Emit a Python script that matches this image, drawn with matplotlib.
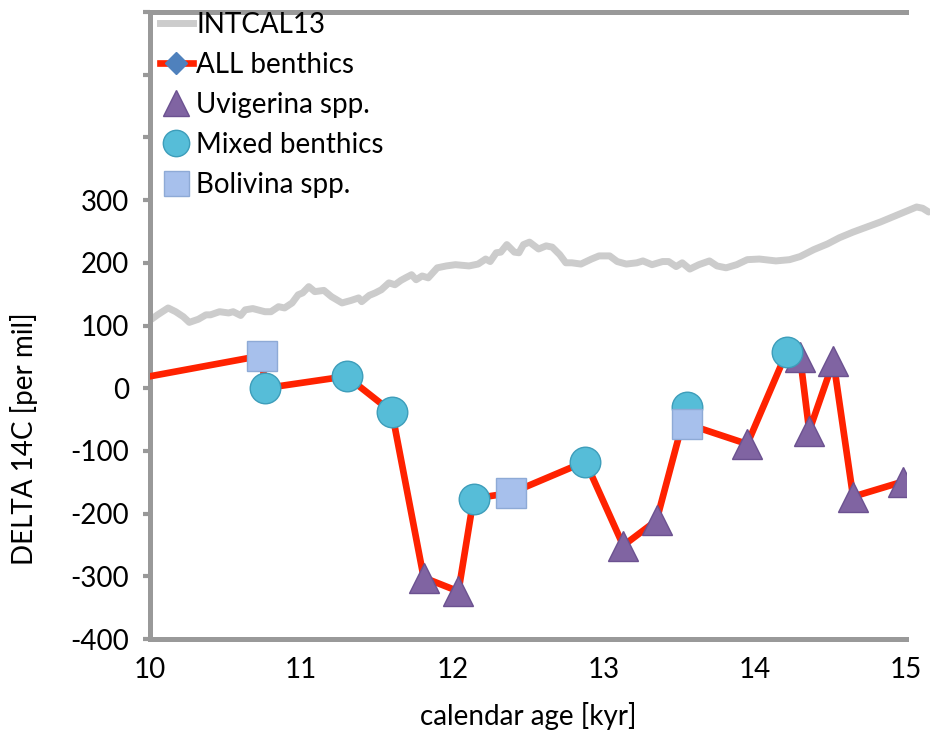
import matplotlib
matplotlib.use("Agg")
import matplotlib.pyplot as plt
from matplotlib.lines import Line2D

plt.rcParams['font.family'] = ['Lato', 'DejaVu Sans']

# INTCAL13 curve (age kyr, delta14C per mil)
intcal_age = [10.01, 10.05, 10.12, 10.17, 10.22, 10.26, 10.32, 10.37, 10.40, 10.46,
              10.52, 10.55, 10.60, 10.63, 10.68, 10.76, 10.80, 10.85, 10.89, 10.94,
              10.98, 11.01, 11.05, 11.09, 11.15, 11.20, 11.27, 11.33, 11.38, 11.40,
              11.45, 11.49, 11.53, 11.58, 11.62, 11.66, 11.69, 11.73, 11.76, 11.80,
              11.84, 11.90, 11.96, 12.02, 12.11, 12.17, 12.22, 12.25, 12.29, 12.32,
              12.36, 12.41, 12.44, 12.47, 12.51, 12.57, 12.62, 12.66, 12.71, 12.75,
              12.79, 12.85, 12.92, 12.97, 13.04, 13.09, 13.15, 13.22, 13.26, 13.32,
              13.39, 13.43, 13.48, 13.52, 13.57, 13.63, 13.70, 13.75, 13.81, 13.88,
              13.95, 14.03, 14.14, 14.23, 14.30, 14.39, 14.48, 14.56, 14.65, 14.74,
              14.83, 14.91, 15.01, 15.07, 15.11, 15.15]
intcal_d14c = [110, 117, 128, 122, 114, 105, 110, 117, 117, 122,
               120, 122, 116, 125, 127, 122, 122, 130, 128, 136,
               149, 152, 162, 154, 156, 146, 136, 140, 144, 138,
               148, 152, 157, 168, 165, 172, 176, 181, 173, 179,
               176, 192, 195, 197, 195, 198, 206, 202, 216, 217,
               229, 217, 216, 229, 233, 222, 227, 225, 213, 200,
               200, 198, 206, 211, 211, 202, 198, 200, 203, 197,
               202, 202, 194, 200, 190, 197, 203, 195, 192, 197,
               205, 206, 203, 205, 210, 221, 230, 240, 249, 257,
               265, 273, 283, 289, 287, 281]

# all benthic samples, in age order
all_age = [10.0, 10.74, 10.76, 11.30, 11.60, 11.81, 12.04, 12.14, 12.39, 12.88,
           13.13, 13.35, 13.55, 13.55, 13.95, 14.21, 14.30, 14.36, 14.52, 14.65, 14.98]
all_d14c = [19, 52, 0, 19, -38, -302, -324, -176, -167, -117,
            -251, -211, -30, -57, -89, 57, 49, -68, 43, -173, -149]

uvi_age = [11.81, 12.04, 13.13, 13.35, 13.95, 14.30, 14.36, 14.52, 14.65, 14.98]
uvi_d14c = [-302, -324, -251, -211, -89, 49, -68, 43, -173, -149]

mixed_age = [10.76, 11.30, 11.60, 12.14, 12.88, 13.55, 14.21]
mixed_d14c = [0, 19, -38, -176, -117, -30, 57]

boli_age = [10.74, 12.39, 13.55]
boli_d14c = [52, -167, -57]

fig = plt.figure(figsize=(9.3, 7.33), dpi=100)
ax = fig.add_axes([150/930, 94/733, 756/930, 627/733])

grey = '#999999'
ax.plot(intcal_age, intcal_d14c, color='#cccccc', lw=5, solid_capstyle='round',
        solid_joinstyle='round', clip_on=False, zorder=2)
ax.plot(all_age, all_d14c, color='#ff2200', lw=4.8, zorder=3)
ax.plot(uvi_age, uvi_d14c, ls='none', marker='^', ms=21, mfc='#8064a2',
        mec='#6b5190', mew=1, zorder=4)
ax.plot(mixed_age, mixed_d14c, ls='none', marker='o', ms=22, mfc='#56bdd8',
        mec='#3d9dba', mew=1, zorder=5)
ax.plot(boli_age, boli_d14c, ls='none', marker='s', ms=21, mfc='#a7c0ec',
        mec='#8eaad6', mew=1, zorder=6)

ax.set_xlim(10, 15)
ax.set_ylim(-400, 600)
ax.set_xticks([10, 11, 12, 13, 14, 15])
ax.set_yticks(range(-400, 601, 100))
ax.set_yticklabels([str(v) if v <= 300 else '' for v in range(-400, 601, 100)])

for s in ['left', 'bottom', 'top']:
    ax.spines[s].set_color(grey)
    ax.spines[s].set_linewidth(3.6)
ax.spines['right'].set_visible(False)
ax.tick_params(axis='y', direction='out', length=5, width=3, color=grey,
               labelsize=20, pad=10)
ax.tick_params(axis='x', length=0, labelsize=20, pad=13)

ax.set_xlabel('calendar age [kyr]', fontsize=20)
ax.set_ylabel('DELTA 14C [per mil]', fontsize=20)
ax.xaxis.set_label_coords(0.5, -0.1)
ax.yaxis.set_label_coords(-0.148, 0.32)

handles = [
    Line2D([], [], color='#cccccc', lw=5),
    Line2D([], [], color='#ff2200', lw=4.8, marker='D', ms=11, mfc='#4f81bd', mec='#4f81bd'),
    Line2D([], [], ls='none', marker='^', ms=19, mfc='#8064a2', mec='#6b5190'),
    Line2D([], [], ls='none', marker='o', ms=19, mfc='#56bdd8', mec='#3d9dba'),
    Line2D([], [], ls='none', marker='s', ms=18, mfc='#a7c0ec', mec='#8eaad6'),
]
labels = ['INTCAL13', 'ALL benthics', 'Uvigerina spp.', 'Mixed benthics', 'Bolivina spp.']
ax.legend(handles, labels, loc='upper left', bbox_to_anchor=(0.013, 1.0),
          frameon=False, fontsize=20, handlelength=1.2, handletextpad=0.12,
          labelspacing=0.5, borderpad=0, borderaxespad=0)

fig.savefig('out.png', dpi=100)
